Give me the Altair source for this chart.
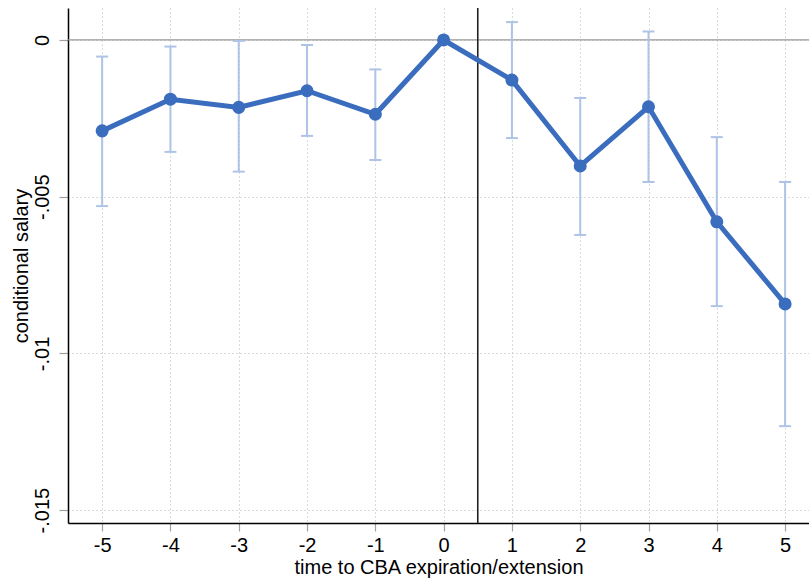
import altair as alt
import pandas as pd

# Event-time estimates with 95% confidence bands
event_time = [-5, -4, -3, -2, -1, 0, 1, 2, 3, 4, 5]
coef = [-0.0029, -0.00189, -0.00215, -0.00162, -0.00237, 0.0, -0.00128, -0.00402, -0.00213, -0.0058, -0.00842]
ci_low = [-0.0053, -0.00357, -0.0042, -0.00306, -0.00383, None, -0.00313, -0.00622, -0.00453, -0.00849, -0.01232]
ci_high = [-0.00053, -0.00021, -0.00003, -0.00016, -0.00094, None, 0.00057, -0.00185, 0.00027, -0.0031, -0.00453]

y_ticks = [0, -0.005, -0.01, -0.015]

df = pd.DataFrame({"t": event_time, "b": coef, "lo": ci_low, "hi": ci_high})
ci_df = df.dropna()

LINE = "#3b6dbf"
CI = "#aec3e6"
FONT = "Liberation Sans"

x_scale = alt.Scale(domain=[-5.5, 5.35], nice=False, zero=False)
y_scale = alt.Scale(domain=[-0.01541, 0.00102], nice=False, zero=False)

x_axis = alt.Axis(
    values=event_time,
    labelExpr="datum.value < 0 ? '-' + abs(datum.value) : '' + datum.value",
    title="time to CBA expiration/extension",
    tickColor="#a0a0a0", tickSize=8, tickWidth=1.2,
    labelPadding=4, titlePadding=2,
)
y_axis = alt.Axis(
    values=y_ticks,
    labelExpr="datum.value == 0 ? '0' : '-' + replace(format(abs(datum.value), '.3~f'), '0.', '.')",
    title="conditional salary",
    labelAngle=270, labelAlign="center", labelBaseline="bottom",
    tickColor="#a0a0a0", tickSize=9, tickWidth=1.2,
    labelPadding=7, titleX=-47, titleBaseline="middle", titleAngle=270,
)

base = alt.Chart(df)

zero_line = alt.Chart(pd.DataFrame({"y": [0]})).mark_rule(
    color="#999999", strokeWidth=1.3
).encode(y=alt.Y("y:Q", scale=y_scale, axis=y_axis))

event_line = alt.Chart(pd.DataFrame({"x": [0.5]})).mark_rule(
    color="#222", strokeWidth=1.6
).encode(x=alt.X("x:Q", scale=x_scale, axis=x_axis))

ci_bars = alt.Chart(ci_df).mark_rule(color=CI, strokeWidth=2).encode(
    x=alt.X("t:Q", scale=x_scale),
    y=alt.Y("lo:Q", scale=y_scale),
    y2="hi:Q",
)
cap_lo = alt.Chart(ci_df).mark_tick(
    color=CI, orient="horizontal", size=12, thickness=2, opacity=1
).encode(x=alt.X("t:Q", scale=x_scale), y=alt.Y("lo:Q", scale=y_scale))
cap_hi = alt.Chart(ci_df).mark_tick(
    color=CI, orient="horizontal", size=12, thickness=2, opacity=1
).encode(x=alt.X("t:Q", scale=x_scale), y=alt.Y("hi:Q", scale=y_scale))

coef_line = base.mark_line(color=LINE, strokeWidth=5).encode(
    x=alt.X("t:Q", scale=x_scale),
    y=alt.Y("b:Q", scale=y_scale),
)
coef_pts = base.mark_circle(color=LINE, size=170, opacity=1).encode(
    x=alt.X("t:Q", scale=x_scale),
    y=alt.Y("b:Q", scale=y_scale),
)

chart = alt.layer(
    zero_line, event_line, ci_bars, cap_lo, cap_hi, coef_line, coef_pts
).properties(
    width=741,
    height=515,
    autosize=alt.AutoSizeParams(type="none"),
    padding={"left": 68, "top": 8, "right": 0, "bottom": 59},
    background="white",
).configure_view(
    stroke=None
).configure_axis(
    labelFont=FONT, titleFont=FONT, labelFontSize=20, titleFontSize=20,
    labelColor="#000", titleColor="#000", titleFontWeight="normal",
    domainColor="#000", domainWidth=1.5,
    grid=True, gridColor="#b5b5b5", gridDash=[1, 3], gridWidth=1,
)

chart.save("out.html", embed_options={"renderer": "svg", "actions": False})
